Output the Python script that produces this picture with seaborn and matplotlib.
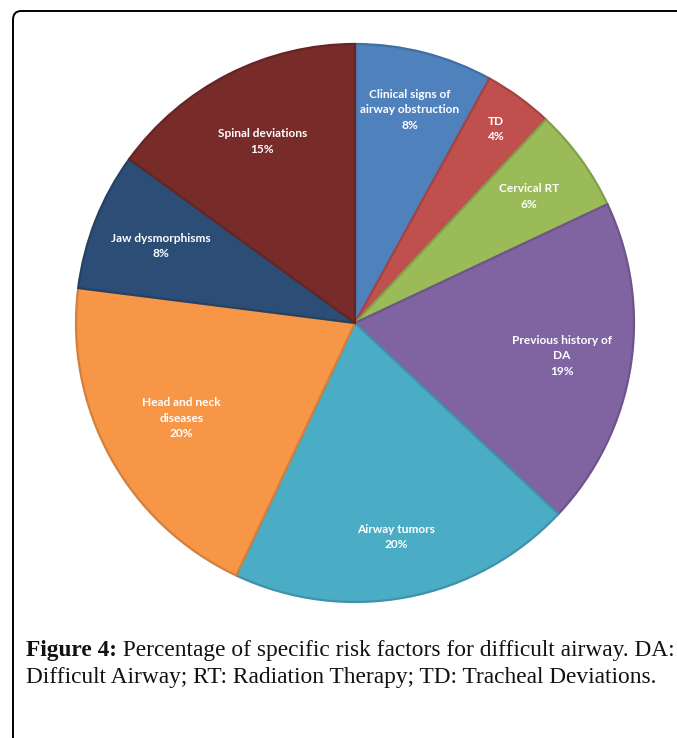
import matplotlib
matplotlib.use("Agg")
import matplotlib.pyplot as plt
import numpy as np
import seaborn as sns
from matplotlib.patches import FancyBboxPatch
from matplotlib.colors import to_rgb

sns.set_theme(style="white")

# Risk factors, clockwise from 12 o'clock
categories = [
    "Clinical signs of\nairway obstruction",
    "TD",
    "Cervical RT",
    "Previous history of\nDA",
    "Airway tumors",
    "Head and neck\ndiseases",
    "Jaw dysmorphisms",
    "Spinal deviations",
]
percentages = [8, 4, 6, 19, 20, 20, 8, 15]
slice_colors = ["#4F81BD", "#C0504D", "#9BBB59", "#8064A2",
                "#4BACC6", "#F79646", "#2C4D75", "#772C2A"]
# radial position of each label, as a fraction of the radius
label_radius = [0.79, 0.86, 0.77, 0.75, 0.78, 0.71, 0.75, 0.73]

caption_bold = "Figure 4:"
caption_line1 = " Percentage of specific risk factors for difficult airway. DA:"
caption_line2 = "Difficult Airway; RT: Radiation Therapy; TD: Tracheal Deviations."

W, H = 677, 738
fig = plt.figure(figsize=(W / 100, H / 100), dpi=100)
fig.patch.set_facecolor("white")

# pie centre and radius in pixels
cx, cy, R = 355, 323, 279
ax = fig.add_axes([(cx - R) / W, (H - cy - R) / H, 2 * R / W, 2 * R / H])

palette = sns.color_palette(slice_colors)
edge_cols = [tuple(c * 0.85 for c in to_rgb(col)) for col in palette]

wedges, _ = ax.pie(
    percentages,
    colors=palette,
    startangle=90,
    counterclock=False,
    radius=1.0,
    wedgeprops=dict(linewidth=1.6),
)
for w, ec in zip(wedges, edge_cols):
    w.set_edgecolor(ec)
ax.set_xlim(-1.0, 1.0)
ax.set_ylim(-1.0, 1.0)
ax.set_aspect("equal")
ax.axis("off")

label_font = dict(family=["Lato", "DejaVu Sans"], weight="bold", size=8.6,
                  color="white")
for w, cat, pct, rf in zip(wedges, categories, percentages, label_radius):
    mid = np.deg2rad((w.theta1 + w.theta2) / 2)
    x, y = rf * np.cos(mid), rf * np.sin(mid)
    ax.text(x, y, f"{cat}\n{pct}%", ha="center", va="center",
            linespacing=1.5, **label_font)

# rounded frame running off the right and bottom edges
frame = FancyBboxPatch((13 / W, -0.05), 1.2, (H - 11) / H + 0.05,
                       boxstyle="round,pad=0,rounding_size=0.012",
                       transform=fig.transFigure, fill=False,
                       edgecolor="black", linewidth=1.4, zorder=5)
fig.patches.append(frame)

# caption
cap_font = dict(family=["Liberation Serif", "DejaVu Serif"], size=16.8,
                color="#111111")
x0 = 26 / W
y1 = (H - 656) / H
y2 = (H - 683) / H
t_bold = fig.text(x0, y1, caption_bold, ha="left", va="baseline",
                  weight="bold", **cap_font)
fig.canvas.draw()
bb = t_bold.get_window_extent()
fig.text(bb.x1 / W, y1, caption_line1, ha="left", va="baseline", **cap_font)
fig.text(x0, y2, caption_line2, ha="left", va="baseline", **cap_font)

fig.savefig("out.png", dpi=100, facecolor="white")
